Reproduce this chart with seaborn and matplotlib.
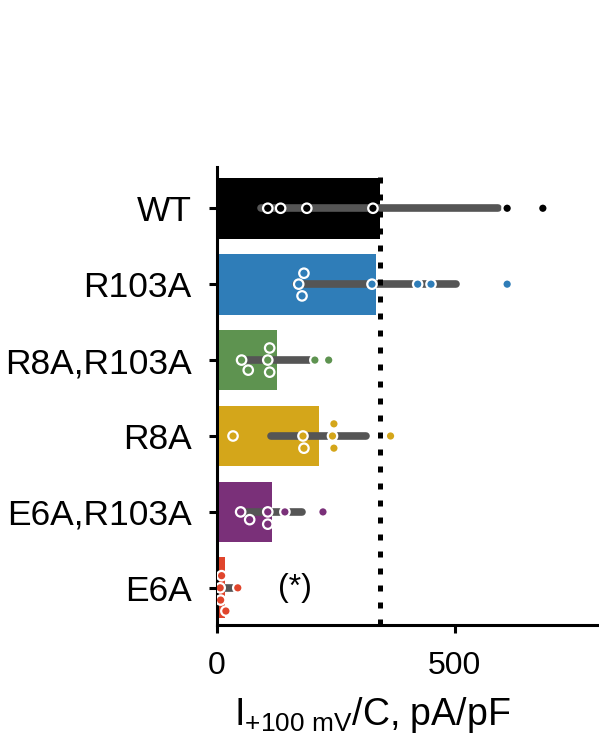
import numpy as np
import pandas as pd
import seaborn as sns
import matplotlib.pyplot as plt

# current density per cell
groups = ["WT", "R103A", "R8A,R103A", "R8A", "E6A,R103A", "E6A"]
wt = [107, 134, 189, 328, 610, 685]
r103a = [172, 179, 183, 326, 422, 450, 610]
r8a_r103a = [52, 66, 107, 111, 111, 206, 235]
r8a = [34, 181, 183, 243, 246, 246, 365]
e6a_r103a = [50, 69, 107, 107, 143, 223]
e6a = [7, 8, 10, 19, 44]
colors = ["#000000", "#2f7db8", "#5e9350", "#d4a61a", "#7a3079", "#e0452c"]

values = [wt, r103a, r8a_r103a, r8a, e6a_r103a, e6a]
df = pd.DataFrame({
    "group": [g for g, v in zip(groups, values) for _ in v],
    "value": [x for v in values for x in v],
})
palette = dict(zip(groups, colors))

sns.set_style("ticks")
plt.rcParams["font.family"] = ["Liberation Sans", "DejaVu Sans"]
plt.rcParams["mathtext.fontset"] = "custom"
plt.rcParams["mathtext.rm"] = "Liberation Sans"
plt.rcParams["mathtext.it"] = "Liberation Sans:italic"
plt.rcParams["text.color"] = "black"
plt.rcParams["axes.labelcolor"] = "black"
plt.rcParams["xtick.color"] = "black"
plt.rcParams["ytick.color"] = "black"
plt.rcParams["axes.edgecolor"] = "black"

fig = plt.figure(figsize=(5.99, 7.48), dpi=100)
ax = fig.add_axes([0.362, 0.1644, 0.638, 0.612])

# bars = mean, gray line = mean +/- SD
sns.barplot(data=df, x="value", y="group", hue="group", order=groups,
            hue_order=groups, palette=palette, errorbar="sd", width=0.8,
            saturation=1, linewidth=0, legend=False, ax=ax,
            err_kws={"color": "#555555", "linewidth": 5.5,
                     "solid_capstyle": "round"})

sns.swarmplot(data=df, x="value", y="group", hue="group", order=groups,
              hue_order=groups, palette=palette, size=6.8, edgecolor="white",
              linewidth=1.6, legend=False, ax=ax, zorder=3)

# WT mean as reference
ax.axvline(np.mean(wt), color="black", lw=3.6, linestyle=(0, (1.2, 2.2)),
           zorder=2.5)

ax.text(164, 5, "(*)", fontsize=23, ha="center", va="center")

ax.set_xlim(0, 803)
ax.set_ylim(5.49, -0.54)
ax.set_xticks([0, 500])
ax.set_ylabel("")
ax.set_xlabel(r"I$_{\mathregular{+100\ mV}}$/C, pA/pF", fontsize=27)
ax.xaxis.set_label_coords(0.408, -0.152)

sns.despine(ax=ax)
for s in ["left", "bottom"]:
    ax.spines[s].set_linewidth(2.2)
ax.tick_params(axis="both", width=2.2, length=6)
ax.tick_params(axis="y", labelsize=25.5, pad=12)
ax.tick_params(axis="x", labelsize=23, pad=13)

fig.savefig("out.png", dpi=100)
